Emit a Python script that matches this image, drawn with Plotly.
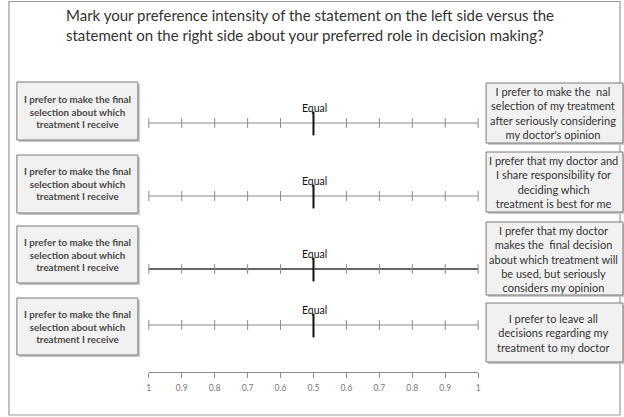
import plotly.graph_objects as go

W, H = 624, 417

# ---- data ----
title_lines = [
    "Mark your preference intensity of the statement on the left side versus the",
    "statement on the right side about your preferred role in decision making?",
]
scale_labels = ["1", "0.9", "0.8", "0.7", "0.6", "0.5", "0.6", "0.7", "0.8", "0.9", "1"]
scale_index = list(range(len(scale_labels)))
equal_index = 5
equal_label = "Equal"
left_statements = [
    "I prefer to make the final<br>selection about which<br>treatment I receive",
] * 4
right_statements = [
    "I prefer to make the  nal<br>selection of my treatment<br>after seriously considering<br>my doctor's opinion",
    "I prefer that my doctor and<br>I share responsibility for<br>deciding which<br>treatment is best for me",
    "I prefer that my doctor<br>makes the  final decision<br>about which treatment will<br>be used, but seriously<br>considers my opinion",
    "I prefer to leave all<br>decisions regarding my<br>treatment to my doctor",
]

# ---- layout (pixel positions) ----
ROW_Y = [123, 196, 269, 325]
LEFT_BOX = [(15, 137, 82, 140), (15, 137, 155, 213), (15, 137, 226, 283), (15, 137, 298, 355)]
RIGHT_BOX = [(488, 626, 83, 143), (488, 626, 152, 212), (488, 626, 222, 295), (488, 626, 303, 362)]
SCALE_X0, SCALE_X1 = 148, 480
AXIS_Y = 372
ROW_LINE_COLOR = ["#8a8a8a", "#8a8a8a", "#333333", "#8a8a8a"]
ROW_LINE_WIDTH = [1, 1, 1.5, 1]

def px(x):
    return x / W

def py(y):
    return 1 - y / H

fig = go.Figure()

for i, ry in enumerate(ROW_Y):
    fig.add_trace(go.Scatter(
        x=scale_index, y=[ry] * len(scale_index), mode="lines+markers",
        line=dict(color=ROW_LINE_COLOR[i], width=ROW_LINE_WIDTH[i]),
        marker=dict(symbol="line-ns", size=7, line=dict(color="#8a8a8a", width=1)),
        hoverinfo="skip", showlegend=False, cliponaxis=False,
    ))
    fig.add_trace(go.Scatter(
        x=[equal_index], y=[ry + 0.5], mode="markers",
        marker=dict(symbol="line-ns", size=17, line=dict(color="#111111", width=2)),
        hoverinfo="skip", showlegend=False, cliponaxis=False,
    ))
    fig.add_annotation(x=equal_index, y=ry - 15, xref="x", yref="y", text=equal_label,
                       showarrow=False, font=dict(size=10.5, color="#111111"),
                       xanchor="center", yanchor="middle", xshift=1)

shapes = []
# outer frame
shapes.append(dict(type="rect", xref="paper", yref="paper", x0=px(7), x1=px(623), y0=py(415), y1=py(1.5),
                   line=dict(color="#9a9a9a", width=1.2), fillcolor="rgba(0,0,0,0)", layer="below"))

def box(x0, x1, y0, y1):
    # shadow
    shapes.append(dict(type="rect", xref="paper", yref="paper", x0=px(x0 + 2), x1=px(x1 + 2),
                       y0=py(y1 + 2), y1=py(y0 + 2), line=dict(width=0), fillcolor="#c8c8c8", layer="below"))
    shapes.append(dict(type="rect", xref="paper", yref="paper", x0=px(x0), x1=px(x1),
                       y0=py(y1), y1=py(y0), line=dict(color="#7a7a7a", width=1),
                       fillcolor="#f1f1f1", layer="below"))

for b in LEFT_BOX + RIGHT_BOX:
    box(*b)

for b, t in zip(LEFT_BOX, left_statements):
    x0, x1, y0, y1 = b
    fig.add_annotation(x=px((x0 + x1) / 2), y=py((y0 + y1) / 2), xref="paper", yref="paper",
                       text="<b>" + t + "</b>", showarrow=False, align="center",
                       xanchor="center", yanchor="middle",
                       font=dict(size=9.8, color="#4a4a4a", family="Lato"))
for b, t in zip(RIGHT_BOX, right_statements):
    x0, x1, y0, y1 = b
    fig.add_annotation(x=px((x0 + 623) / 2), y=py((y0 + y1) / 2), xref="paper", yref="paper",
                       text=t, showarrow=False, align="center",
                       xanchor="center", yanchor="middle",
                       font=dict(size=11, color="#333333", family="Lato"))

fig.add_annotation(x=px(62), y=py(25), xref="paper", yref="paper",
                   text="<br>".join(title_lines), showarrow=False, align="left",
                   xanchor="left", yanchor="middle",
                   font=dict(size=15, color="#333333", family="Lato"))

fig.update_layout(
    width=W, height=H, margin=dict(l=0, r=0, t=0, b=0),
    paper_bgcolor="white", plot_bgcolor="rgba(0,0,0,0)",
    font=dict(family="Lato"),
    shapes=shapes,
    xaxis=dict(domain=[px(SCALE_X0), px(SCALE_X1)], range=[0, 10], anchor="free", position=py(AXIS_Y),
               tickvals=scale_index, ticktext=scale_labels, showline=True, linecolor="#8c8c8c",
               linewidth=1, ticks="outside", ticklen=5, tickcolor="#8c8c8c", showgrid=False,
               zeroline=False, tickfont=dict(size=8.5, color="#777777"), ticklabelstandoff=3,
               fixedrange=True),
    yaxis=dict(domain=[0, 1], range=[H, 0], visible=False, fixedrange=True),
)

fig.write_html("out.html", config={"displayModeBar": False},
               post_script="document.body.style.margin='0px';")
